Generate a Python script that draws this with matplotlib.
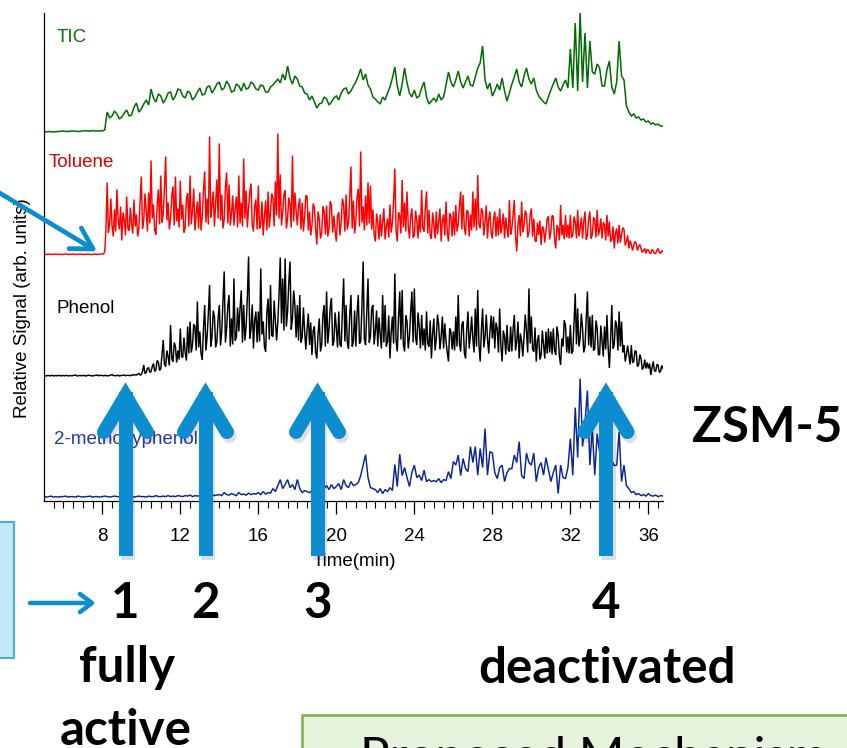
import numpy as np
import matplotlib
matplotlib.use("Agg")
import matplotlib.pyplot as plt
from matplotlib.patches import Rectangle
from matplotlib.ticker import MultipleLocator

# ---------------- data ----------------
series_names = ["TIC", "Toluene", "Phenol", "2-methoxyphenol"]
x_ticks = [8, 12, 16, 20, 24, 28, 32, 36]
x_label = "Time(min)"
y_label = "Relative Signal (arb. units)"
stage_labels = ["1", "2", "3", "4"]

# TIC and 2-methoxyphenol: 0.125 min steps, 5.000 .. 36.750 min (one row per minute)
time_mid = 5.0 + 0.125 * np.arange(255)
tic = [
    0.00, 0.03, 0.05, 0.02, 0.00, 0.04, 0.05, 0.08,
    0.10, 0.06, 0.05, 0.09, 0.10, 0.07, 0.05, 0.08,
    0.10, 0.13, 0.10, 0.08, 0.15, 0.11, 0.10, 0.12,
    0.10, 0.20, 2.00, 1.40, 1.60, 2.10, 1.80, 1.30,
    1.50, 1.90, 2.20, 1.60, 1.70, 2.50, 2.90, 2.00,
    2.30, 2.80, 3.20, 2.70, 4.30, 3.40, 3.00, 3.80,
    3.60, 2.90, 3.30, 3.90, 4.00, 3.20, 3.60, 4.30,
    4.20, 3.60, 3.40, 4.10, 3.90, 3.20, 3.50, 4.00,
    4.40, 3.70, 3.80, 4.50, 4.60, 3.90, 4.30, 4.80,
    5.00, 4.20, 4.40, 5.10, 4.70, 4.00, 4.10, 4.80,
    4.60, 4.10, 4.90, 4.30, 4.40, 5.00, 4.80, 4.30,
    4.20, 4.70, 4.60, 4.00, 4.00, 4.50, 4.70, 5.00,
    5.30, 4.90, 5.80, 5.20, 6.60, 5.40, 4.80, 5.60,
    5.30, 4.60, 4.50, 3.90, 3.80, 3.20, 3.60, 3.00,
    2.40, 2.80, 2.90, 3.50, 3.30, 2.70, 3.00, 3.40,
    3.60, 3.20, 3.90, 4.30, 4.40, 3.80, 4.10, 4.60,
    5.00, 5.60, 6.30, 5.20, 5.80, 4.70, 4.30, 3.50,
    3.30, 3.00, 2.80, 3.50, 3.20, 3.90, 4.50, 5.40,
    6.50, 4.60, 3.60, 4.80, 6.40, 4.90, 3.90, 3.50,
    4.20, 3.40, 3.60, 4.40, 5.00, 3.50, 2.80, 3.10,
    3.40, 3.00, 3.80, 3.20, 3.50, 4.70, 6.00, 5.00,
    4.50, 5.20, 6.10, 5.00, 4.40, 5.00, 5.60, 4.70,
    4.60, 5.50, 6.40, 6.90, 8.60, 5.20, 4.30, 4.90,
    3.60, 4.10, 4.80, 4.20, 5.40, 4.10, 3.10, 3.90,
    4.80, 5.50, 6.30, 5.00, 4.50, 5.60, 6.40, 5.30,
    4.80, 5.40, 4.20, 3.60, 3.30, 3.00, 2.80, 3.50,
    4.20, 4.80, 5.40, 4.50, 4.10, 4.70, 5.20, 4.40,
    8.30, 4.40, 10.90, 4.10, 11.90, 5.00, 9.90, 4.40,
    9.10, 6.00, 5.80, 6.80, 6.40, 4.60, 4.60, 6.20,
    7.10, 4.50, 3.80, 5.00, 9.10, 5.60, 5.20, 2.60,
    2.00, 1.60, 1.80, 1.40, 1.50, 1.20, 1.30, 1.00,
    1.10, 0.80, 0.90, 0.70, 0.80, 0.60, 0.60,
]
methoxyphenol = [
    0.10, 0.05, 0.10, 0.15, 0.05, 0.10, 0.05, 0.10,
    0.10, 0.15, 0.05, 0.10, 0.10, 0.05, 0.15, 0.10,
    0.05, 0.10, 0.10, 0.15, 0.05, 0.10, 0.10, 0.05,
    0.10, 0.15, 0.10, 0.05, 0.10, 0.15, 0.10, 0.10,
    0.05, 0.10, 0.15, 0.10, 0.10, 0.05, 0.10, 0.15,
    0.10, 0.10, 0.05, 0.15, 0.10, 0.10, 0.20, 0.10,
    0.10, 0.15, 0.10, 0.20, 0.10, 0.15, 0.10, 0.20,
    0.15, 0.10, 0.20, 0.15, 0.25, 0.10, 0.20, 0.15,
    0.20, 0.30, 0.15, 0.25, 0.20, 0.30, 0.20, 0.25,
    0.30, 0.20, 0.50, 0.30, 0.25, 0.40, 0.30, 0.20,
    0.50, 0.30, 0.35, 0.25, 0.45, 0.30, 0.40, 0.35,
    0.50, 0.30, 0.60, 0.35, 0.50, 0.45, 0.90, 0.60,
    1.20, 1.80, 0.90, 1.30, 1.80, 1.00, 1.30, 0.80,
    1.80, 0.90, 0.50, 0.70, 0.60, 0.50, 0.70, 0.60,
    0.50, 0.70, 0.60, 0.90, 1.20, 0.80, 1.30, 0.90,
    1.10, 1.40, 0.80, 1.80, 1.20, 1.00, 1.60, 1.20,
    1.30, 1.50, 2.20, 3.25, 4.30, 2.00, 1.00, 0.90,
    0.80, 0.50, 0.90, 0.40, 0.80, 0.60, 1.00, 0.70,
    3.30, 1.10, 4.35, 2.20, 3.00, 2.00, 1.10, 2.50,
    3.25, 2.00, 2.25, 1.70, 2.75, 1.60, 1.80, 1.60,
    1.70, 1.60, 1.90, 1.50, 1.80, 1.70, 2.60, 1.90,
    3.60, 3.25, 4.25, 2.20, 3.90, 2.90, 2.60, 5.10,
    3.50, 5.10, 2.25, 4.90, 3.00, 6.90, 2.25, 4.60,
    4.45, 2.50, 1.90, 3.00, 3.25, 1.60, 2.50, 2.90,
    2.90, 4.25, 3.50, 5.60, 2.20, 1.90, 4.45, 3.50,
    3.25, 4.45, 1.60, 3.00, 3.50, 2.25, 4.00, 2.80,
    1.60, 2.50, 3.25, 0.40, 3.25, 2.00, 1.90, 3.00,
    5.90, 2.25, 9.00, 4.00, 11.90, 5.10, 7.50, 10.70,
    3.25, 6.90, 2.25, 6.40, 4.50, 6.00, 3.50, 5.00,
    4.00, 3.70, 3.20, 3.25, 6.60, 1.60, 3.25, 1.20,
    0.90, 0.50, 0.60, 0.30, 0.40, 0.20, 0.30, 0.15,
    0.40, 0.20, 0.15, 0.25, 0.10, 0.20, 0.15,
]

# Toluene and Phenol: 0.0625 min steps, 5.0000 .. 36.7500 min (one row per minute)
time_fine = 5.0 + 0.0625 * np.arange(509)
toluene = [
    0.00, 0.02, 0.00, 0.03, 0.05, 0.02, 0.00, 0.03, 0.00, 0.02, 0.05, 0.02, 0.00, 0.03, 0.00, 0.02,
    0.00, 0.03, 0.05, 0.02, 0.00, 0.03, 0.00, 0.02, 0.05, 0.03, 0.00, 0.02, 0.00, 0.03, 0.05, 0.02,
    0.00, 0.03, 0.00, 0.02, 0.05, 0.03, 0.00, 0.02, 0.00, 0.03, 0.05, 0.02, 0.00, 0.03, 0.05, 0.03,
    0.05, 0.05, 0.30, 2.50, 7.20, 2.20, 3.00, 5.60, 2.90, 1.80, 4.50, 2.30, 6.50, 3.40, 2.50, 4.80,
    1.40, 4.20, 3.50, 1.90, 5.80, 2.60, 2.40, 4.70, 3.00, 2.10, 5.50, 2.80, 4.00, 1.80, 2.60, 5.20,
    7.80, 2.60, 3.40, 6.10, 4.50, 2.30, 6.20, 3.10, 9.40, 3.60, 5.00, 2.40, 2.00, 4.90, 6.50, 3.00,
    7.90, 3.20, 4.10, 6.70, 9.80, 3.40, 5.20, 2.50, 3.60, 5.90, 6.80, 2.90, 7.80, 3.30, 4.60, 2.70,
    7.40, 3.50, 5.00, 2.20, 2.70, 5.60, 6.10, 2.80, 7.90, 3.00, 4.40, 6.60, 2.40, 4.10, 5.30, 2.60,
    6.20, 2.40, 3.80, 6.40, 8.30, 3.20, 5.60, 3.00, 11.80, 3.70, 4.90, 6.30, 2.80, 5.10, 7.50, 3.60,
    11.10, 3.40, 6.00, 2.60, 3.50, 6.70, 8.20, 3.10, 7.00, 2.90, 4.10, 5.90, 2.90, 4.60, 5.80, 2.70,
    7.90, 3.10, 5.20, 2.80, 9.60, 3.60, 6.40, 2.70, 4.60, 6.20, 7.10, 3.00, 2.30, 4.80, 5.50, 2.50,
    6.90, 2.60, 3.00, 5.30, 1.90, 3.80, 5.40, 2.40, 6.30, 2.70, 4.20, 6.10, 5.70, 2.80, 7.30, 3.90,
    12.10, 3.60, 8.00, 2.90, 4.20, 6.00, 6.40, 2.60, 3.60, 5.70, 5.00, 2.70, 9.90, 3.30, 6.20, 4.40,
    2.90, 4.90, 5.60, 2.50, 5.20, 2.30, 3.80, 5.90, 5.80, 2.40, 4.30, 1.90, 2.90, 5.10, 4.70, 2.60,
    1.00, 4.30, 3.60, 1.60, 2.10, 4.80, 4.40, 2.00, 4.90, 1.80, 2.60, 5.30, 4.90, 2.20, 3.90, 2.40,
    1.30, 3.90, 4.20, 1.90, 3.30, 5.60, 5.00, 2.30, 6.00, 2.50, 3.20, 5.80, 8.80, 2.60, 5.40, 2.10,
    3.30, 5.70, 6.60, 2.80, 10.30, 3.20, 4.80, 2.40, 5.90, 2.90, 7.20, 3.10, 6.90, 2.50, 4.50, 2.00,
    1.30, 4.10, 3.20, 1.50, 4.00, 1.80, 3.30, 4.60, 1.50, 2.80, 3.60, 1.70, 5.00, 2.20, 3.20, 5.30,
    8.60, 2.40, 1.30, 4.20, 3.90, 2.10, 7.45, 2.70, 5.20, 2.30, 6.30, 2.90, 1.60, 3.80, 4.60, 1.70,
    1.90, 4.40, 3.40, 1.60, 3.95, 2.20, 6.45, 2.60, 2.30, 4.70, 6.30, 2.10, 4.45, 1.90, 1.60, 4.20,
    3.00, 1.60, 4.30, 2.00, 3.30, 4.60, 1.30, 3.40, 4.00, 1.90, 5.30, 2.20, 1.30, 4.10, 3.80, 1.80,
    4.30, 1.90, 4.95, 2.30, 3.00, 4.80, 6.30, 2.50, 5.95, 2.70, 1.95, 4.40, 4.30, 1.80, 4.00, 2.40,
    6.30, 2.70, 5.60, 2.40, 7.95, 3.10, 2.60, 4.60, 4.30, 1.90, 3.30, 4.90, 1.60, 3.50, 4.30, 2.20,
    1.60, 3.60, 4.30, 1.80, 3.80, 1.90, 4.60, 2.10, 2.95, 4.10, 1.60, 3.70, 2.60, 1.70, 5.45, 2.00,
    2.60, 4.00, 5.45, 1.90, 0.30, 2.90, 3.95, 1.80, 5.30, 2.20, 2.95, 4.40, 4.00, 1.70, 2.20, 3.90,
    4.60, 1.80, 3.60, 1.40, 1.30, 3.20, 1.95, 3.40, 0.95, 2.80, 2.60, 1.20, 2.30, 3.60, 3.80, 1.50,
    2.30, 3.90, 3.80, 1.60, 0.60, 2.90, 2.60, 1.40, 4.95, 1.90, 2.95, 1.50, 3.95, 1.70, 3.00, 1.60,
    3.95, 1.70, 1.95, 3.80, 3.30, 1.60, 4.45, 1.80, 2.60, 3.70, 1.60, 3.30, 4.30, 1.50, 1.95, 3.60,
    4.30, 1.60, 1.95, 3.70, 3.50, 1.70, 4.45, 1.90, 2.50, 3.60, 1.60, 3.20, 3.00, 1.40, 3.95, 1.80,
    3.30, 1.30, 1.50, 2.80, 0.60, 2.10, 2.60, 1.10, 2.95, 1.20, 1.95, 2.70, 2.50, 0.90, 1.30, 1.90,
    0.60, 1.40, 1.00, 0.40, 0.95, 1.30, 1.10, 0.40, 0.80, 1.00, 0.60, 0.20, 0.40, 0.60, 0.10, 0.50,
    0.45, 0.15, 0.10, 0.50, 0.40, 0.10, 0.10, 0.40, 0.60, 0.20, 0.10, 0.35, 0.30,
]
phenol = [
    0.10, 0.08, 0.05, 0.10, 0.10, 0.06, 0.10, 0.12, 0.05, 0.08, 0.10, 0.07, 0.10, 0.12, 0.05, 0.09,
    0.10, 0.07, 0.10, 0.12, 0.05, 0.08, 0.10, 0.07, 0.10, 0.13, 0.15, 0.08, 0.05, 0.10, 0.10, 0.07,
    0.10, 0.12, 0.05, 0.08, 0.10, 0.13, 0.10, 0.07, 0.05, 0.09, 0.10, 0.12, 0.15, 0.08, 0.10, 0.12,
    0.10, 0.07, 0.10, 0.12, 0.05, 0.09, 0.10, 0.14, 0.20, 0.10, 0.10, 0.07, 0.10, 0.13, 0.05, 0.09,
    0.10, 0.13, 0.15, 0.08, 0.10, 0.14, 0.10, 0.08, 0.15, 0.12, 0.20, 0.15, 0.15, 0.22, 0.30, 0.15,
    0.20, 0.50, 1.15, 0.30, 0.40, 0.80, 0.90, 0.40, 0.50, 1.00, 1.30, 0.50, 0.70, 1.60, 1.45, 0.60,
    0.80, 2.20, 3.65, 1.20, 1.00, 2.60, 2.00, 1.10, 5.15, 1.80, 1.50, 3.40, 3.00, 1.40, 2.60, 1.70,
    4.80, 2.00, 1.90, 3.90, 2.40, 1.60, 5.00, 2.30, 5.50, 2.40, 3.15, 5.20, 5.00, 2.60, 7.50, 2.90,
    4.50, 2.30, 1.65, 4.80, 7.15, 2.60, 4.00, 6.30, 9.15, 3.00, 3.95, 6.60, 6.00, 2.90, 3.50, 5.80,
    7.15, 3.10, 4.50, 7.40, 10.50, 3.40, 4.80, 7.10, 8.15, 3.00, 5.80, 3.20, 9.80, 3.60, 3.95, 6.90,
    4.50, 6.80, 8.60, 3.40, 7.15, 3.60, 5.00, 7.90, 12.00, 3.80, 4.80, 7.20, 2.80, 5.60, 6.50, 3.40,
    6.50, 3.50, 10.80, 4.20, 5.50, 3.00, 2.50, 6.40, 7.80, 3.70, 9.15, 4.10, 4.00, 7.60, 5.50, 3.60,
    5.50, 8.20, 11.90, 5.30, 9.80, 4.60, 11.80, 5.00, 6.50, 9.40, 11.50, 4.70, 5.80, 8.60, 7.15, 3.90,
    7.15, 3.60, 8.15, 3.40, 3.95, 6.90, 4.50, 2.70, 4.80, 6.30, 3.15, 5.40, 2.15, 4.60, 5.00, 2.40,
    1.80, 4.30, 5.80, 2.50, 3.15, 6.20, 7.15, 3.00, 8.50, 3.30, 4.80, 6.90, 7.80, 3.10, 3.50, 6.40,
    4.80, 2.90, 6.50, 3.20, 3.00, 6.70, 9.80, 3.50, 7.15, 3.40, 2.80, 6.20, 8.15, 3.00, 3.50, 6.60,
    3.00, 6.30, 8.15, 3.30, 3.50, 7.00, 11.50, 3.70, 3.15, 6.40, 9.80, 3.40, 4.00, 6.80, 7.15, 3.20,
    4.50, 6.60, 3.00, 5.90, 4.15, 2.80, 8.15, 3.40, 7.15, 3.00, 3.50, 6.10, 1.80, 4.40, 6.00, 3.30,
    10.30, 3.60, 2.50, 5.80, 8.50, 3.70, 8.65, 3.20, 2.50, 6.10, 5.50, 2.80, 4.00, 6.50, 8.50, 3.40,
    8.80, 3.90, 3.15, 6.40, 5.00, 2.80, 6.15, 3.10, 4.80, 2.60, 6.50, 3.30, 3.00, 5.60, 1.80, 4.30,
    5.80, 2.60, 3.80, 6.20, 5.15, 2.70, 4.00, 6.00, 2.80, 5.30, 3.50, 2.40, 1.50, 4.80, 4.50, 2.70,
    4.50, 2.60, 6.00, 3.00, 8.15, 3.30, 2.50, 5.20, 5.50, 2.40, 1.80, 4.70, 6.50, 2.80, 4.15, 6.00,
    3.80, 2.40, 6.80, 3.00, 8.65, 3.20, 1.50, 4.60, 6.80, 2.90, 4.00, 6.20, 3.80, 2.30, 4.50, 6.10,
    3.80, 6.00, 2.80, 5.40, 4.80, 2.40, 6.80, 3.10, 1.50, 4.60, 4.00, 2.20, 5.15, 2.70, 2.50, 5.00,
    2.50, 4.70, 6.15, 2.60, 3.50, 5.50, 1.80, 4.30, 3.50, 2.00, 4.00, 6.20, 4.50, 2.40, 8.80, 3.30,
    6.00, 2.70, 2.50, 4.90, 1.50, 3.60, 4.15, 1.70, 2.15, 4.60, 3.15, 1.80, 4.50, 2.30, 4.80, 2.40,
    4.50, 2.20, 4.80, 2.60, 2.15, 5.00, 4.15, 2.00, 1.15, 3.80, 3.00, 5.60, 5.15, 2.40, 4.00, 2.30,
    5.15, 2.30, 2.50, 5.30, 8.30, 3.20, 6.80, 3.00, 3.80, 6.30, 4.80, 2.40, 3.00, 5.70, 8.50, 3.10,
    6.00, 2.90, 6.15, 2.60, 2.80, 5.60, 4.80, 2.20, 2.15, 5.10, 3.50, 2.00, 5.00, 2.70, 6.15, 2.90,
    0.85, 3.60, 7.15, 2.80, 3.15, 5.60, 5.15, 2.60, 6.50, 3.00, 5.50, 2.40, 3.15, 1.50, 2.15, 3.10,
    2.15, 1.20, 3.15, 1.40, 1.50, 2.60, 2.50, 1.00, 1.15, 2.20, 1.80, 0.70, 0.90, 1.70, 0.80, 1.40,
    0.80, 1.30, 0.15, 0.90, 1.50, 0.60, 0.50, 1.20, 1.15, 0.40, 0.50, 1.10, 0.80,
]

# ---------------- style / layout ----------------
W, H = 847, 748
CHART_FONT = "Liberation Sans"
SLIDE_FONT = "Lato"
trace_colors = ["#006b00", "#ff0000", "#000000", "#0a2396"]
label_colors = ["#0b6e0b", "#e00000", "#000000", "#2538a8"]
trace_widths = [1.1, 1.05, 1.05, 1.05]
offsets = [36.85, 24.6, 12.4, 0.29]            # stacking offsets (arb. units)
label_px = [(57, 41.5), (49, 166.7), (56, 313.3), (54, 443.5)]
arrow_blue = "#0b8dcf"

fig = plt.figure(figsize=(W / 100, H / 100), dpi=100)
fig.patch.set_facecolor("white")

# main chart axes (pixel box: x 44.3..663, y 12.7..500.5)
ax = fig.add_axes([44.3 / W, (H - 500.5) / H, 618.7 / W, 487.8 / H])
ax.set_xlim(5.026, 36.75)
ax.set_ylim(0, 48.78)
series_t = [time_mid, time_fine, time_fine, time_mid]
series_v = [tic, toluene, phenol, methoxyphenol]
for t, v, c, off, lw in zip(series_t, series_v, trace_colors, offsets, trace_widths):
    ax.plot(t, np.asarray(v) + off, color=c, lw=lw, solid_joinstyle="miter")

for s in ("top", "right"):
    ax.spines[s].set_visible(False)
for s in ("left", "bottom"):
    ax.spines[s].set_linewidth(0.9)
ax.set_yticks([])
ax.set_xticks(x_ticks)
ax.xaxis.set_minor_locator(MultipleLocator(0.5))
ax.tick_params(axis="x", which="major", direction="out", length=9.4, width=0.9,
               labelsize=13.5, pad=10.5)
ax.tick_params(axis="x", which="minor", direction="out", length=5, width=0.8)
for lab in ax.get_xticklabels():
    lab.set_family(CHART_FONT)
ax.patch.set_alpha(0)

# overlay axes in pixel coordinates for annotations
ov = fig.add_axes([0, 0, 1, 1], zorder=5)
ov.set_xlim(0, W)
ov.set_ylim(H, 0)
ov.axis("off")

ov.text(354, 562, x_label, ha="center", va="center", fontsize=13.5,
        family=CHART_FONT, zorder=2)
ov.text(23, 308, y_label, ha="center", va="center", rotation=90,
        fontsize=13.5, family=CHART_FONT, zorder=2)
for name, (lx, ly), c in zip(series_names, label_px, label_colors):
    ov.text(lx, ly, name, ha="left", va="baseline", fontsize=13.5,
            family=CHART_FONT, color=c, zorder=2)

# font size fitted to the slide text width
renderer = fig.canvas.get_renderer()
probe = fig.text(0, 0, "deactivated", fontsize=40, family=SLIDE_FONT, weight="bold")
bold_size = 40 * 257 / probe.get_window_extent(renderer=renderer).width
probe.remove()

# big stage arrows
arrow_x = [125.5, 205.5, 317.5, 606.0]
lw_big = 14 * 0.72
for x in arrow_x:
    for dx, dy, col, al, z in ((2.5, 4, "black", 0.13, 3), (0, 0, arrow_blue, 1, 4)):
        ov.plot([x + dx, x + dx], [556 + dy, 392 + dy], color=col, alpha=al,
                lw=lw_big, solid_capstyle="butt", zorder=z)
        ov.plot([x - 21.5 + dx, x + dx, x + 21.5 + dx], [432 + dy, 396 + dy, 432 + dy],
                color=col, alpha=al, lw=lw_big, solid_capstyle="round",
                solid_joinstyle="miter", zorder=z)

# stage numbers and words
for x, s in zip(arrow_x, stage_labels):
    ov.text(x, 618, s, ha="center", va="baseline", fontsize=bold_size,
            family=SLIDE_FONT, weight="bold", zorder=6)
ov.text(127, 682, "fully", ha="center", va="baseline", fontsize=bold_size,
        family=SLIDE_FONT, weight="bold", zorder=6)
ov.text(126, 745, "active", ha="center", va="baseline", fontsize=bold_size,
        family=SLIDE_FONT, weight="bold", zorder=6)
ov.text(606.5, 683, "deactivated", ha="center", va="baseline", fontsize=bold_size,
        family=SLIDE_FONT, weight="bold", zorder=6)
ov.text(842, 442, "ZSM-5", ha="right", va="baseline", fontsize=bold_size,
        family=SLIDE_FONT, weight="bold", zorder=6)

# left light-blue box (cut by the edge) and small arrow
ov.add_patch(Rectangle((-20, 522), 33.5, 136, facecolor="#c4e8f9",
                       edgecolor="#4aaee3", lw=1.5, zorder=2))
ov.plot([30, 91], [603, 603], color=arrow_blue, lw=3.2, solid_capstyle="round", zorder=4)
ov.plot([80, 92, 80], [594, 603, 612], color=arrow_blue, lw=3.2,
        solid_capstyle="round", solid_joinstyle="round", zorder=4)

# arrow pointing at the toluene onset
tip = np.array([93.0, 249.0])
start = np.array([-2.0, 192.0])
ov.plot([start[0], tip[0] - 2], [start[1], tip[1] - 1.2], color=arrow_blue, lw=3.4,
        solid_capstyle="butt", zorder=4)
d = (start - tip) / np.linalg.norm(start - tip)
for ang in (np.radians(30), np.radians(-30)):
    r = np.array([[np.cos(ang), -np.sin(ang)], [np.sin(ang), np.cos(ang)]]) @ d * 24
    ov.plot([tip[0] + r[0], tip[0]], [tip[1] + r[1], tip[1]], color=arrow_blue,
            lw=3.4, solid_capstyle="round", zorder=4)

# bottom green box (cut by the edges)
ov.add_patch(Rectangle((302, 715), 600, 100, facecolor="#e5f2dc",
                       edgecolor="#78b04a", lw=1.8, zorder=2))
ov.text(360, 736, "Proposed Mechanism", ha="left", va="top", fontsize=bold_size,
        family=SLIDE_FONT, zorder=3, clip_on=False)

fig.savefig("out.png", dpi=100, facecolor="white")
